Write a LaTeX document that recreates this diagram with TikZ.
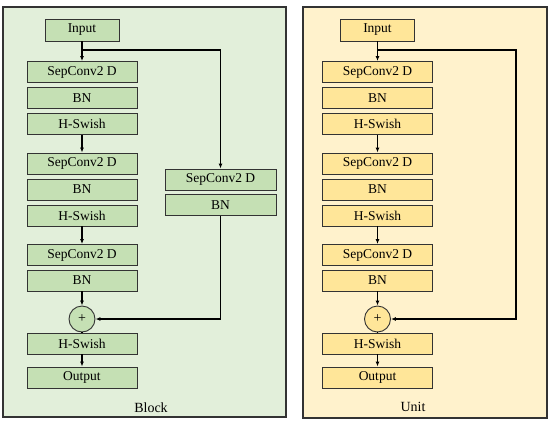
\documentclass[tikz,border=0pt]{standalone}
\usepackage{fontspec}
\setmainfont{Liberation Serif}
\usetikzlibrary{arrows.meta}
\definecolor{gbg}{HTML}{E2EFDA}
\definecolor{gbox}{HTML}{C5E0B4}
\definecolor{ybg}{HTML}{FFF2CC}
\definecolor{ybox}{HTML}{FFE699}
\definecolor{edge}{HTML}{333333}
\begin{document}
\begin{tikzpicture}[x=1pt,y=-1pt,
  panel/.style={draw=edge, line width=1.3pt},
  blk/.style={draw=edge, line width=0.9pt, minimum width=110pt, minimum height=21pt, inner sep=0pt, font=\fontsize{13.5}{13.5}\selectfont},
  inbox/.style={blk, minimum width=74pt, minimum height=22pt},
  addc/.style={circle, draw=edge, line width=0.9pt, minimum size=26pt, inner sep=0pt, font=\fontsize{14}{14}\selectfont},
  conn/.style={draw=black, line width=1.1pt},
  arr/.style={conn, -{Latex[length=5pt,width=4pt]}},
  lbl/.style={font=\fontsize{14}{14}\selectfont}
]
\useasboundingbox (0,0) rectangle (550,424);
% panels
\filldraw[panel, fill=gbg] (3,7) rectangle (286,417);
\filldraw[panel, fill=ybg] (303,7) rectangle (547,418);

% ---------- Block (left) ----------
\begin{scope}[every node/.append style={fill=gbox}]
\node[inbox] (lin) at (82,30) {Input};
\node[blk] (ls1) at (82,72) {SepConv2 D};
\node[blk] (lb1) at (82,98) {BN};
\node[blk] (lh1) at (82,124) {H-Swish};
\node[blk] (ls2) at (82,163.5) {SepConv2 D};
\node[blk] (lb2) at (82,189.5) {BN};
\node[blk] (lh2) at (82,215.5) {H-Swish};
\node[blk] (ls3) at (82,255) {SepConv2 D};
\node[blk] (lb3) at (82,280.5) {BN};
\node[addc] (lad) at (82,319) {+};
\node[blk] (lh4) at (82,343.5) {H-Swish};
\node[blk] (lout) at (82,377.5) {Output};
\node[blk, minimum width=111pt] (lss) at (220.5,179.5) {SepConv2 D};
\node[blk, minimum width=111pt] (lsb) at (220.5,205) {BN};
\end{scope}
\node[lbl] (lblk) at (151,408) {Block};
\coordinate (lbr) at (82,50);
\draw[arr] (lin.south) -- (ls1.north);
\draw[arr] (lh1.south) -- (ls2.north);
\draw[arr] (lh2.south) -- (ls3.north);
\draw[arr] (lb3.south) -- (lad.north);
\draw[conn] (lad.south) -- (lh4.north);
\draw[arr] (lh4.south) -- (lout.north);
\draw[arr] (lbr) -| (lss.north);
\draw[arr] (lsb.south) |- (lad.east);

% ---------- Unit (right) ----------
\begin{scope}[every node/.append style={fill=ybox}]
\node[inbox] (rin) at (377.5,30) {Input};
\node[blk] (rs1) at (377.5,72) {SepConv2 D};
\node[blk] (rb1) at (377.5,98) {BN};
\node[blk] (rh1) at (377.5,124) {H-Swish};
\node[blk] (rs2) at (377.5,163.5) {SepConv2 D};
\node[blk] (rb2) at (377.5,189.5) {BN};
\node[blk] (rh2) at (377.5,215.5) {H-Swish};
\node[blk] (rs3) at (377.5,255) {SepConv2 D};
\node[blk] (rb3) at (377.5,280.5) {BN};
\node[addc] (rad) at (377.5,319) {+};
\node[blk] (rh4) at (377.5,343.5) {H-Swish};
\node[blk] (rout) at (377.5,377.5) {Output};
\end{scope}
\node[lbl] (runit) at (413,407) {Unit};
\coordinate (rbr) at (377.5,50);
\coordinate (rcn) at (516,50);
\draw[arr] (rin.south) -- (rs1.north);
\draw[arr] (rh1.south) -- (rs2.north);
\draw[arr] (rh2.south) -- (rs3.north);
\draw[arr] (rb3.south) -- (rad.north);
\draw[conn] (rad.south) -- (rh4.north);
\draw[arr] (rh4.south) -- (rout.north);
\draw[arr] (rbr) -- (rcn) |- (rad.east);
\end{tikzpicture}
\end{document}
